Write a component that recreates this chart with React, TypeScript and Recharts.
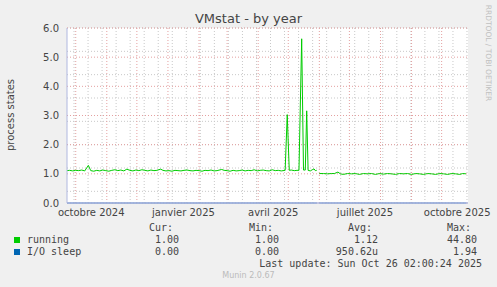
import React from "react";
import {
  LineChart,
  Line,
  XAxis,
  YAxis,
  CartesianGrid,
  ReferenceLine,
} from "recharts";

// x values are days counted from 1 Oct 2024
const runningDays = [
  -8.7, -6, -3, 0, 3, 6, 9, 12.6, 15, 18, 21, 24, 27, 30, 33, 36, 39, 42, 45,
  48, 51, 54, 57, 60, 63, 66, 69, 72, 75, 78, 81, 84.8, 87, 90, 93, 96, 99,
  102, 105, 108, 111, 114, 117, 120, 123, 126, 129, 132, 135, 138, 141, 145.6,
  148, 151, 154, 157, 160, 163, 166, 169, 172, 175, 178, 181, 184, 187, 190,
  193, 196, 199, 202, 205, 208.9, 211, 213, 215, 218, 220.7, 222.7, 225.4,
  227.2, 229, 230.4, 231.8, 234, 236, 237.7, 239, 240.4, 241.7, 243, 247, 251,
  255, 258, 261.6, 264, 267, 271, 275, 279, 283, 287, 291, 295, 299, 303, 307,
  311, 315, 319, 323, 327, 331, 335, 339, 343, 347, 351, 355, 359, 363, 367,
  371, 375, 379, 383, 386, 389.3,
];
const runningValues: (number | null)[] = [
  1.11, 1.12, 1.1, 1.12, 1.11, 1.13, 1.1, 1.29, 1.11, 1.09, 1.12, 1.1, 1.13,
  1.11, 1.09, 1.12, 1.14, 1.11, 1.13, 1.1, 1.16, 1.12, 1.1, 1.13, 1.11, 1.14,
  1.12, 1.1, 1.13, 1.11, 1.12, 1.16, 1.12, 1.1, 1.11, 1.09, 1.12, 1.11, 1.1,
  1.12, 1.13, 1.11, 1.1, 1.12, 1.11, 1.09, 1.12, 1.11, 1.13, 1.1, 1.11, 1.15,
  1.12, 1.11, 1.09, 1.12, 1.1, 1.11, 1.13, 1.1, 1.12, 1.11, 1.14, 1.1, 1.12,
  1.13, 1.11, 1.1, 1.14, 1.11, 1.12, 1.1, 1.12, 3.03, 1.12, 1.13, 1.11, 1.12,
  1.12, 5.63, 1.13, 1.13, 3.16, 1.12, 1.1, 1.14, 1.17, 1.11, 1.12, null, 1.01,
  1.01, 1.0, 1.01, 1.01, 1.06, 1.0, 0.98, 1.01, 1.0, 1.01, 0.98, 1.01, 1.0,
  1.01, 0.98, 1.01, 0.99, 1.01, 1.0, 0.98, 1.01, 1.0, 1.01, 0.98, 1.01, 1.0,
  0.98, 1.01, 1.0, 0.98, 1.01, 1.0, 0.98, 1.01, 1.0, 0.98, 1.01, 1.0,
];

const ioDays = [-8.7, 240.4, 241.7, 243, 389.3];
const ioValues: (number | null)[] = [0, 0, null, 0, 0];

const labelDays = [15.5, 107.5, 197, 288.5, 380.5];
const labelNames = [
  "octobre 2024",
  "janvier 2025",
  "avril 2025",
  "juillet 2025",
  "octobre 2025",
];
const monthStarts = [0, 31, 61, 92, 123, 151, 182, 212, 243, 273, 304, 335, 365];
const yTicks = [0, 1, 2, 3, 4, 5, 6];

const runningData = runningDays.map((day, i) => ({ day, v: runningValues[i] }));
const ioData = ioDays.map((day, i) => ({ day, v: ioValues[i] }));

// grid helpers
const biweekly = Array.from({ length: 29 }, (_, i) => -1.7 + i * 14);
const yMinor = Array.from({ length: 31 }, (_, i) => +(i * 0.2).toFixed(1));

const AXIS = "#b0b8e0";
const txt = "#444";

const App: React.FC = () => {
  return (
    <div
      style={{
        position: "absolute",
        left: 0,
        top: 0,
        width: 497,
        height: 287,
        background: "#f0f0f0",
        fontFamily: "'DejaVu Sans', sans-serif",
        overflow: "hidden",
      }}
    >
      <div
        style={{
          position: "absolute",
          left: 0,
          width: 497,
          top: 11,
          textAlign: "center",
          fontSize: 13,
          lineHeight: "16px",
          color: txt,
        }}
      >
        VMstat - by year
      </div>

      <LineChart
        width={497}
        height={225}
        margin={{ top: 28, right: 29, bottom: 0, left: 0 }}
        style={{ position: "absolute", left: 0, top: 0 }}
      >
        <CartesianGrid
          fill="#ffffff"
          stroke="#c8c8c8"
          strokeDasharray="1 2"
          verticalValues={biweekly}
          horizontalValues={yMinor}
        />
        <CartesianGrid
          stroke="#e4a0a0"
          strokeDasharray="1 2"
          verticalValues={monthStarts}
          horizontalValues={yTicks}
        />
        <XAxis
          dataKey="day"
          type="number"
          domain={[-8.7, 391.3]}
          allowDataOverflow
          ticks={labelDays}
          interval={0}
          tickFormatter={(d: number) => labelNames[labelDays.indexOf(d)]}
          tickLine={false}
          tickMargin={0}
          height={22}
          axisLine={{ stroke: AXIS }}
          tick={{ fill: txt, fontSize: 10 }}
        />
        <YAxis
          type="number"
          domain={[0, 6]}
          ticks={yTicks}
          width={67}
          tickFormatter={(v: number) => v.toFixed(1)}
          tickLine={false}
          axisLine={{ stroke: AXIS }}
          tick={{ fill: txt, fontSize: 10 }}
        />
        <Line
          data={ioData}
          dataKey="v"
          stroke="#0066b3"
          strokeWidth={1}
          dot={false}
          connectNulls={false}
          isAnimationActive={false}
        />
        <Line
          data={runningData}
          dataKey="v"
          stroke="#00cc00"
          strokeWidth={1}
          dot={false}
          connectNulls={false}
          isAnimationActive={false}
        />
        <ReferenceLine y={0} stroke={AXIS} strokeWidth={1} />
      </LineChart>

      <div
        style={{
          position: "absolute",
          left: 10,
          top: 115,
          transform: "translate(-50%, -50%) rotate(-90deg)",
          fontSize: 10,
          color: txt,
          whiteSpace: "nowrap",
        }}
      >
        process states
      </div>

      <div
        style={{
          position: "absolute",
          left: 488,
          top: 53,
          transform: "translate(-50%, -50%) rotate(90deg)",
          fontSize: 7.5,
          color: "#c0c0c0",
          whiteSpace: "nowrap",
        }}
      >
        RRDTOOL / TOBI OETIKER
      </div>

      <div
        style={{
          fontFamily: "'DejaVu Sans Mono', monospace",
          fontSize: 10,
          lineHeight: "12px",
          color: txt,
        }}
      >
        {[
          ["Cur:", 149],
          ["Min:", 249],
          ["Avg:", 348],
          ["Max:", 447],
        ].map(([t, x]) => (
          <div
            key={t as string}
            style={{ position: "absolute", left: x as number, top: 222, whiteSpace: "pre" }}
          >
            {t}
          </div>
        ))}
        {[
          { name: "running", color: "#00cc00", vals: ["1.00", "1.00", "1.12", "44.80"], y: 234 },
          { name: "I/O sleep", color: "#0066b3", vals: ["0.00", "0.00", "950.62u", "1.94"], y: 246 },
        ].map((row) => (
          <React.Fragment key={row.name}>
            <div
              style={{
                position: "absolute",
                left: 14,
                top: row.y + 3,
                width: 6,
                height: 6,
                background: row.color,
              }}
            />
            <div style={{ position: "absolute", left: 27, top: row.y, whiteSpace: "pre" }}>
              {row.name}
            </div>
            {row.vals.map((v, i) => (
              <div
                key={i}
                style={{
                  position: "absolute",
                  right: 497 - [179, 279, 378, 477][i],
                  top: row.y,
                  whiteSpace: "pre",
                  textAlign: "right",
                }}
              >
                {v}
              </div>
            ))}
          </React.Fragment>
        ))}
        <div
          style={{ position: "absolute", right: 497 - 482, top: 257.5, whiteSpace: "pre" }}
        >
          Last update: Sun Oct 26 02:00:24 2025
        </div>
      </div>

      <div
        style={{
          position: "absolute",
          left: 0,
          width: 497,
          top: 271,
          textAlign: "center",
          fontSize: 8,
          lineHeight: "10px",
          color: "#bbbbbb",
        }}
      >
        Munin 2.0.67
      </div>
    </div>
  );
};

export default App;
